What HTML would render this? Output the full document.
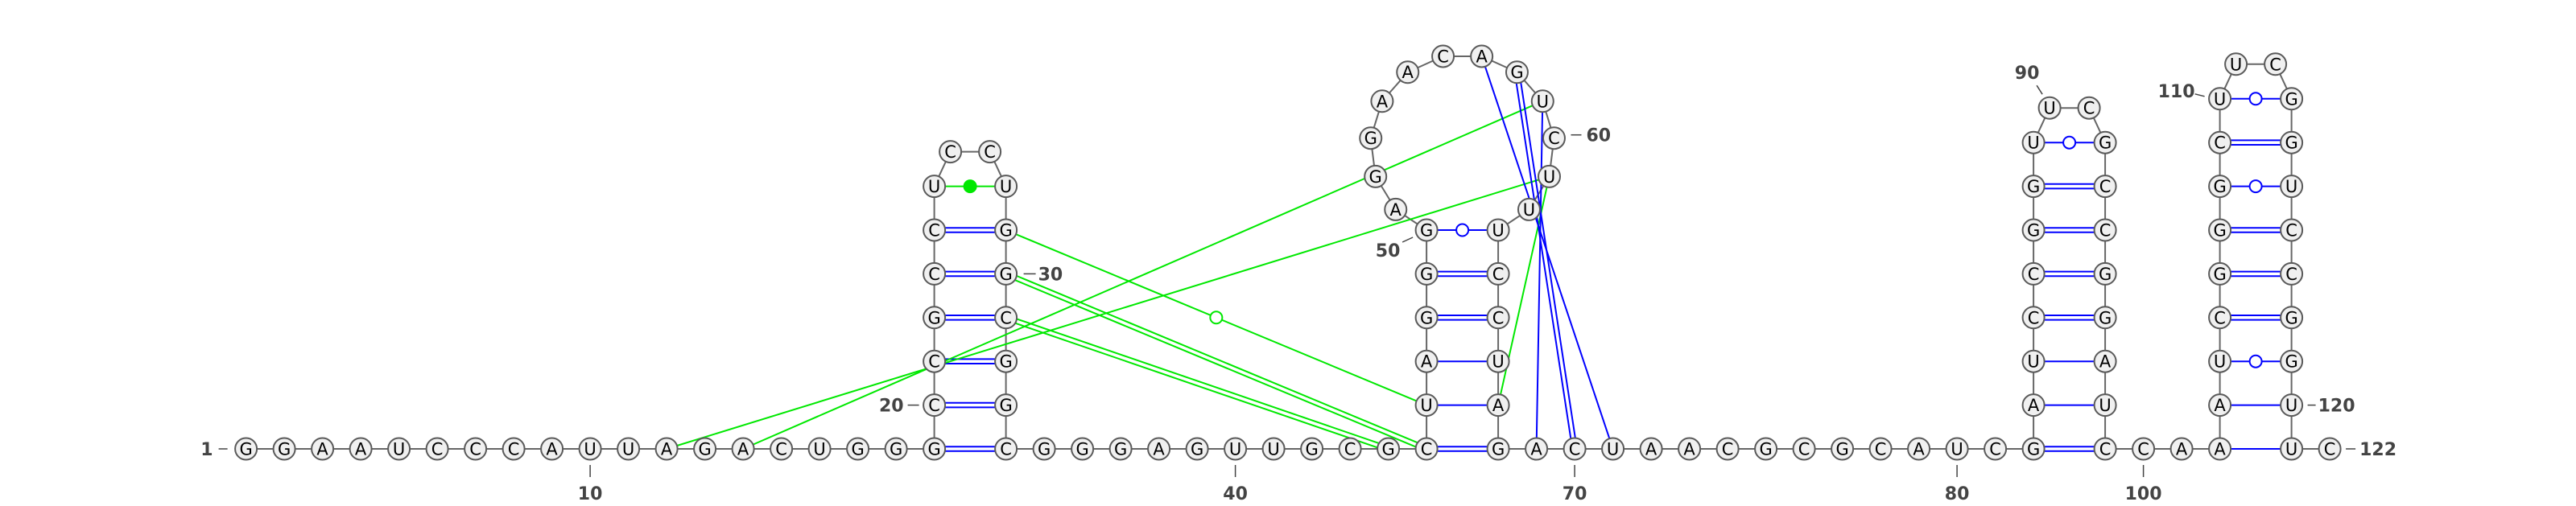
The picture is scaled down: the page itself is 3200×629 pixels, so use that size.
<!DOCTYPE html>
<html><head><meta charset="utf-8"><style>
html,body{margin:0;padding:0;background:#fff;}
svg{display:block;}
.nt{font-family:"DejaVu Sans","Liberation Sans",sans-serif;font-size:21px;fill:#000;}
.lbl{font-family:"DejaVu Sans","Liberation Sans",sans-serif;font-size:22px;font-weight:bold;fill:#444;}
</style></head><body>
<svg id="chart" width="3200" height="629" viewBox="0 0 3200 629" xmlns="http://www.w3.org/2000/svg">
<rect width="3200" height="629" fill="#fff"/>
<g id="backbone"></g>
<g id="pairs"></g>
<g id="tert"></g>
<g id="nodes"></g>
<g id="labels"></g>
</svg>
<script>
const sequence = "GGAAUCCCAUUAGACUGGG" + "CCGCCUCCUGGCGGC" + "GGGAGUUGCG" + "CUAGGGAGGAACAGUCUUUCCUAG" + "ACUAACGCGCAUC" + "GAUCCGGUUCGCCGGAUC" + "CA" + "AAUCGGGCUUCGGUCCGGUUC";
const stemOpen = [19, 45, 82, 102];
const stemClose = [34, 68, 99, 121];
const helixPairs = [[19,34],[20,33],[21,32],[22,31],[23,30],[24,29],[25,28],
 [45,68],[46,67],[47,66],[48,65],[49,64],[50,63],
 [82,99],[83,98],[84,97],[85,96],[86,95],[87,94],[88,93],[89,92],
 [102,121],[103,120],[104,119],[105,118],[106,117],[107,116],[108,115],[109,114],[110,113]];
const specialPairs = [[25,28]];
const greenLinks = [[12,61,"single"],[14,59,"single"],[29,46,"open"],[30,45,"double"],[31,44,"double"],[61,67,"single"]];
const blueLinks = [[57,71,"single"],[58,70,"double"],[59,69,"single"]];
const belowLabels = [10, 40, 70, 80, 100];
const sideLabels = [1, 20, 30, 50, 60, 90, 110, 120, 122];

const NS = "http://www.w3.org/2000/svg";
const X0 = 305.6, DX = 47.5, SW = 89, BY = 558, DY = 54.4, R = 13.5;
const BLUE = "#0000ff", GREEN = "#00e800", GRAY = "#666";
function mk(tag, attrs, parent){
  const e = document.createElementNS(NS, tag);
  for (const k in attrs) e.setAttribute(k, attrs[k]);
  if (parent) parent.appendChild(e);
  return e;
}
const partner = {};
helixPairs.forEach(([a,b]) => { partner[a] = b; partner[b] = a; });
const N = sequence.length;
const pos = {};
let x = X0, i = 1;
while (i <= N) {
  const si = stemOpen.indexOf(i);
  if (si >= 0) {
    const c = stemClose[si];
    let k = 0, a = i;
    while (partner[a] === c - k) {
      pos[a] = {x: x, y: BY - k*DY};
      pos[c-k] = {x: x + SW, y: BY - k*DY};
      a++; k++;
    }
    const top = BY - (k-1)*DY;
    const lo = a, hi = c - k, n = hi - lo + 1;
    if (n === 2) {
      pos[lo] = {x: x + 20, y: top - 43};
      pos[hi] = {x: x + SW - 20, y: top - 43};
    } else {
      const cx = x + SW/2, cy = top - 104.3, RR = 114.3, al = 24.28*Math.PI/180;
      for (let j = 0; j < n; j++) {
        const th = -((n/2 - 0.5) - j)*al;
        pos[lo+j] = {x: cx + RR*Math.sin(th), y: cy - RR*Math.cos(th)};
      }
    }
    x += SW + DX; i = c + 1;
  } else {
    pos[i] = {x: x, y: BY}; x += DX; i++;
  }
}
const gB = document.getElementById("backbone"), gP = document.getElementById("pairs"),
      gT = document.getElementById("tert"), gN = document.getElementById("nodes"), gL = document.getElementById("labels");
for (let n = 1; n < N; n++) {
  const l = mk("line", {x1: pos[n].x, y1: pos[n].y, x2: pos[n+1].x, y2: pos[n+1].y, stroke: GRAY, "stroke-width": 2}, gB);
  
  
}
function edgeLine(a, b, kind, color, parent, name) {
  const p = pos[a], q = pos[b];
  const dx = q.x - p.x, dy = q.y - p.y, L = Math.hypot(dx, dy);
  const ux = dx/L, uy = dy/L;
  const x1 = p.x + ux*R, y1 = p.y + uy*R, x2 = q.x - ux*R, y2 = q.y - uy*R;
  const g = mk("g", {}, parent);
  
  
  if (kind === "double") {
    const ox = -uy*2.8, oy = ux*2.8;
    mk("line", {x1: x1+ox, y1: y1+oy, x2: x2+ox, y2: y2+oy, stroke: color, "stroke-width": 2}, g);
    mk("line", {x1: x1-ox, y1: y1-oy, x2: x2-ox, y2: y2-oy, stroke: color, "stroke-width": 2}, g);
  } else {
    mk("line", {x1: x1, y1: y1, x2: x2, y2: y2, stroke: color, "stroke-width": 2}, g);
  }
  const mx = (p.x+q.x)/2, my = (p.y+q.y)/2;
  if (kind === "open") mk("circle", {cx: mx, cy: my, r: 7.5, fill: "#fff", stroke: color, "stroke-width": 2}, g);
  if (kind === "filled") mk("circle", {cx: mx, cy: my, r: 8, fill: color, stroke: color, "stroke-width": 1}, g);
}
function pairKind(a, b) {
  const s = sequence[a-1] + sequence[b-1];
  if (s === "GC" || s === "CG") return "double";
  if (s === "AU" || s === "UA") return "single";
  if (s === "GU" || s === "UG") return "open";
  return "single";
}
helixPairs.forEach(([a,b]) => {
  const sp = specialPairs.some(p => p[0] === a && p[1] === b);
  if (sp) edgeLine(a, b, "filled", GREEN, gP, "noncanonical-pair-" + a + "-" + b);
  else edgeLine(a, b, pairKind(a,b), BLUE, gP, "base-pair-" + a + "-" + b);
});
greenLinks.forEach(([a,b,k]) => edgeLine(a, b, k, GREEN, gT, "tertiary-green-" + a + "-" + b));
blueLinks.forEach(([a,b,k]) => edgeLine(a, b, k, BLUE, gT, "tertiary-blue-" + a + "-" + b));
for (let n = 1; n <= N; n++) {
  const g = mk("g", {}, gN);
  
  
  mk("circle", {cx: pos[n].x, cy: pos[n].y, r: R, fill: "#f0f0f0", stroke: "#5a5a5a", "stroke-width": 2}, g);
  const t = mk("text", {x: pos[n].x, y: pos[n].y + 7.5, "text-anchor": "middle", class: "nt"}, g);
  t.textContent = sequence[n-1];
}
belowLabels.forEach(n => {
  const p = pos[n];
  const g = mk("g", {}, gL);
  
  
  mk("line", {x1: p.x, y1: p.y + 20, x2: p.x, y2: p.y + 35, stroke: "#444", "stroke-width": 1.5}, g);
  const t = mk("text", {x: p.x, y: p.y + 63, "text-anchor": "middle", class: "lbl"}, g);
  t.textContent = n;
});
const sideOff = {
  1:   {d:[-34,0,-23,0],  t:[-41,8,"end"]},
  20:  {d:[-33,0,-19,0],  t:[-38,8,"end"]},
  30:  {d:[22,0,37,0],    t:[40,8,"start"]},
  50:  {d:[-30,15,-17,9], t:[-48,33,"middle"]},
  60:  {d:[21,-4,34,-4],  t:[40,4,"start"]},
  90:  {d:[-16,-28,-9,-17], t:[-28,-36,"middle"]},
  110: {d:[-31,-6,-19,-3], t:[-31,-2,"end"]},
  120: {d:[20,0,30,0],    t:[33,8,"start"]},
  122: {d:[20,0,32,0],    t:[37,8,"start"]}
};
sideLabels.forEach(n => {
  const p = pos[n], o = sideOff[n];
  const g = mk("g", {}, gL);
  
  
  mk("line", {x1: p.x + o.d[0], y1: p.y + o.d[1], x2: p.x + o.d[2], y2: p.y + o.d[3], stroke: "#444", "stroke-width": 1.5}, g);
  const t = mk("text", {x: p.x + o.t[0], y: p.y + o.t[1], "text-anchor": o.t[2], class: "lbl"}, g);
  t.textContent = n;
});
</script>
</body></html>
